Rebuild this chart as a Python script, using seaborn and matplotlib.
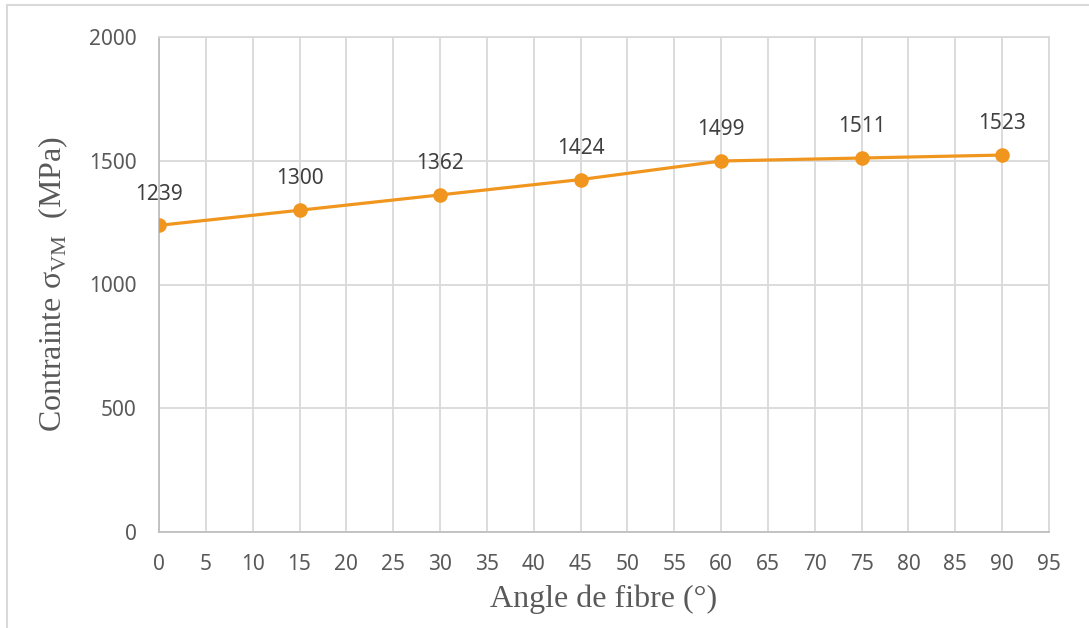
import numpy as np
import pandas as pd
import matplotlib.pyplot as plt
from matplotlib.lines import Line2D
import seaborn as sns

# donnees
angles = [0, 15, 30, 45, 60, 75, 90]
contraintes = [1239, 1300, 1362, 1424, 1499, 1511, 1523]
x_ticks = list(range(0, 100, 5))
y_ticks = [0, 500, 1000, 1500, 2000]

df = pd.DataFrame({"angle": angles, "sigma": contraintes})

sns.set_theme(style="white")
plt.rcParams['font.family'] = ['Noto Sans', 'DejaVu Sans']
plt.rcParams['mathtext.fontset'] = 'custom'
plt.rcParams['mathtext.rm'] = 'Liberation Serif'

fig = plt.figure(figsize=(10.89, 6.28), dpi=100)
ax = fig.add_axes([159 / 1089, 1 - 532 / 628, (1049 - 159) / 1089, (532 - 37) / 628])

orange = "#F0961E"
sns.lineplot(data=df, x="angle", y="sigma", ax=ax, color=orange, linewidth=2.3,
             marker="o", markersize=10.5, markeredgewidth=0, zorder=3)

# etiquettes de valeurs
for x, y in zip(angles, contraintes):
    ax.annotate(str(y), (x, y), xytext=(0, 15), textcoords="offset points",
                ha="center", va="bottom", fontsize=15, color="#404040")

ax.set_xlim(0, 95)
ax.set_ylim(0, 2000)
ax.set_xticks(x_ticks)
ax.set_yticks(y_ticks)
ax.grid(True, color="#D9D9D9", linewidth=1.3)
ax.set_axisbelow(True)
for side in ["top", "right"]:
    ax.spines[side].set_color("#D9D9D9")
    ax.spines[side].set_linewidth(1.3)
for side in ["left", "bottom"]:
    ax.spines[side].set_color("#BFBFBF")
    ax.spines[side].set_linewidth(1.3)
ax.tick_params(axis="both", length=0, labelsize=15, labelcolor="#595959")
ax.tick_params(axis="x", pad=16)
ax.tick_params(axis="y", pad=16)

ax.set_xlabel("Angle de fibre (°)", family="Liberation Serif", fontsize=23,
              color="#595959", labelpad=7)
ax.set_ylabel(r"Contrainte σ$_{\mathrm{VM}}$  (MPa)", family="Liberation Serif",
              fontsize=23, color="#595959", labelpad=14)

# cadre de la figure
fig.add_artist(Line2D([7 / 1089, 1], [1 - 5 / 628, 1 - 5 / 628], transform=fig.transFigure,
                      color="#D9D9D9", linewidth=1.5))
fig.add_artist(Line2D([7 / 1089, 7 / 1089], [0, 1 - 5 / 628], transform=fig.transFigure,
                      color="#D9D9D9", linewidth=1.5))

fig.savefig("out.png", dpi=100)
